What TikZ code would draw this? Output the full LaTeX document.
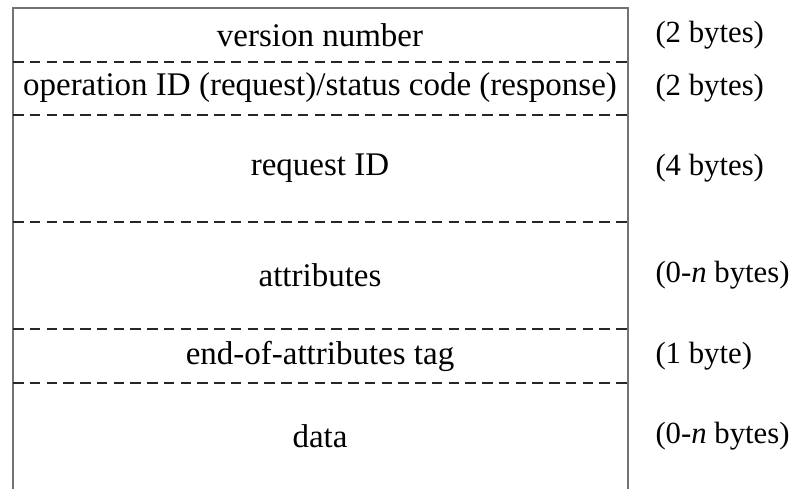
\documentclass[tikz,border=0pt]{standalone}
\usepackage{fontspec}
\setmainfont{Liberation Serif}

\begin{document}
\begin{tikzpicture}[x=0.4pt,y=-0.4pt,
  field/.style={inner sep=0pt,font=\fontsize{13.2}{15}\selectfont},
  size/.style={inner sep=0pt,anchor=west,font=\fontsize{12.3}{14}\selectfont},
  sep/.style={draw=black!85,line width=0.6pt,dash pattern=on 4.2pt off 2.5pt},
  frame/.style={draw=black!55,line width=0.7pt}]

\useasboundingbox (0,0) rectangle (794,489);

% Frame
\coordinate (bl) at (13,489);
\coordinate (tl) at (13,8);
\coordinate (tr) at (628,8);
\coordinate (br) at (628,489);
\draw[frame] (bl)--(tl)--(tr)--(br);

% Separators
\coordinate (s1l) at (13,62);  \coordinate (s1r) at (628,62);
\coordinate (s2l) at (13,115); \coordinate (s2r) at (628,115);
\coordinate (s3l) at (13,222); \coordinate (s3r) at (628,222);
\coordinate (s4l) at (13,329); \coordinate (s4r) at (628,329);
\coordinate (s5l) at (13,383); \coordinate (s5r) at (628,383);
\draw[sep] (s1l)--(s1r);
\draw[sep] (s2l)--(s2r);
\draw[sep] (s3l)--(s3r);
\draw[sep] (s4l)--(s4r);
\draw[sep] (s5l)--(s5r);

% Fields
\node[field] (version) at (320,35) {version number};
\node[field] (opid) at (320,88) {operation ID (request)/status code (response)};
\node[field] (reqid) at (320,168) {request ID};
\node[field] (attrs) at (320,275) {attributes};
\node[field] (endtag) at (320,356) {end-of-attributes tag};
\node[field] (data) at (320,436) {data};

% Sizes
\node[size] (versionsz) at (655,35) {(2 bytes)};
\node[size] (opidsz) at (655,88) {(2 bytes)};
\node[size] (reqidsz) at (655,168) {(4 bytes)};
\node[size] (attrssz) at (655,275) {(0-\textit{n} bytes)};
\node[size] (endtagsz) at (655,356) {(1 byte)};
\node[size] (datasz) at (655,436) {(0-\textit{n} bytes)};

\end{tikzpicture}
\end{document}
